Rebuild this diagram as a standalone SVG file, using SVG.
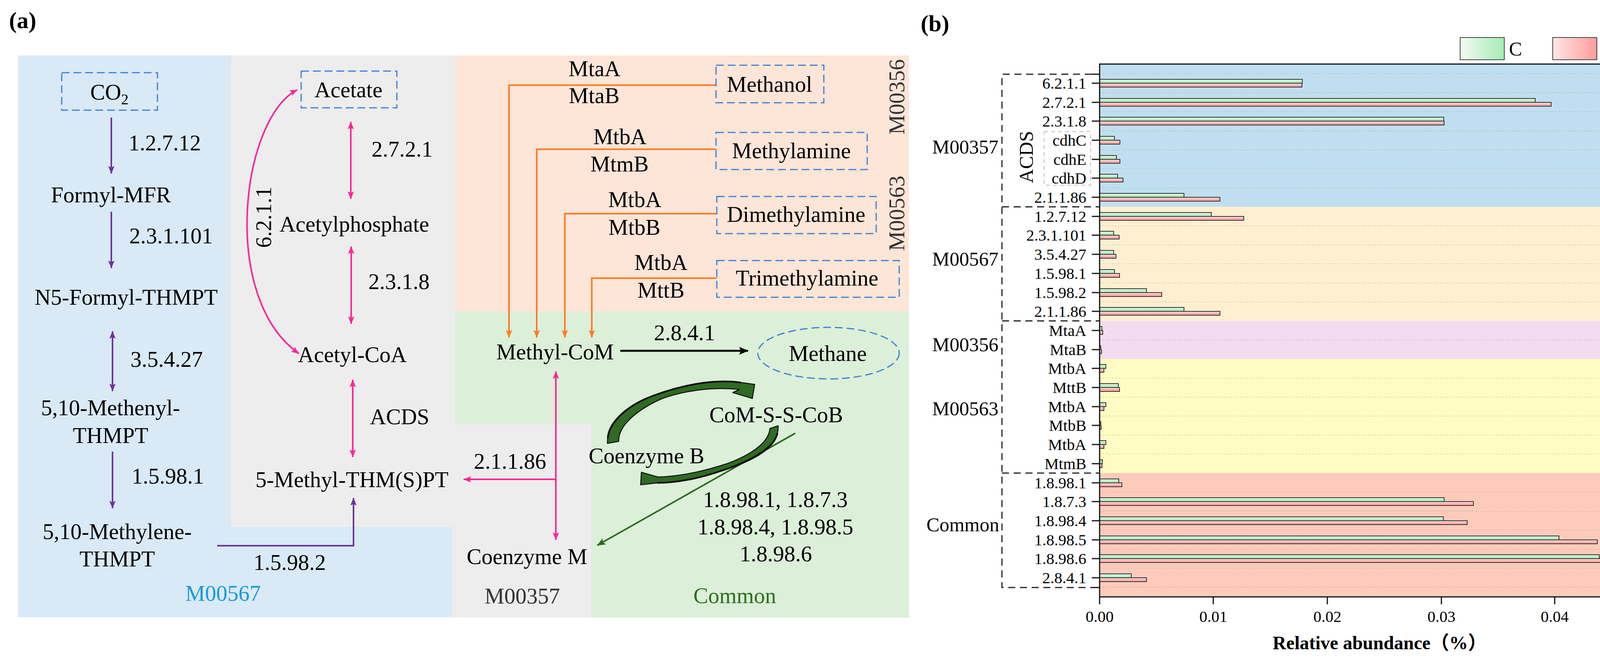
<svg xmlns="http://www.w3.org/2000/svg" width="4327" height="1687" viewBox="0 0 4327 1687">
<defs>
<style>
text{font-family:"Liberation Serif","Times New Roman","Noto Sans CJK SC",serif;fill:#000}
.t{font-size:57px}
.m{text-anchor:middle}
.e{text-anchor:end}
.bx{fill:none;stroke:#3f80d4;stroke-width:3;stroke-dasharray:20 10}
.pu{fill:none;stroke:#7030a0;stroke-width:4}
.pk{fill:none;stroke:#ff2394;stroke-width:4}
.or{fill:none;stroke:#ff7a21;stroke-width:4}
.bk{fill:none;stroke:#000;stroke-width:5}
.gl{fill:none;stroke:#2b6a1d;stroke-width:4}
.blk{fill:#2f6b22;stroke:#111;stroke-width:2.5;stroke-linejoin:round}
.blo{fill:none;stroke:#111;stroke-width:4.5;stroke-linecap:round}
.ct{font-size:41px}
.cg{font-size:50px}
.dbox{fill:none;stroke:#222;stroke-width:3;stroke-dasharray:18 12}
.lbox{fill:none;stroke:#bdbdbd;stroke-width:2;stroke-dasharray:10 8}
.grid{stroke:#8a8a8a;stroke-opacity:.35;stroke-width:2;stroke-dasharray:3 5}
.gb{fill:url(#gGv);stroke:#333;stroke-width:2}
.rb{fill:url(#gRv);stroke:#333;stroke-width:2}
.ax{fill:none;stroke:#111;stroke-width:3}
</style>
<linearGradient id="gGv" x1="0" y1="0" x2="0" y2="1"><stop offset="0" stop-color="#e4f9e5"/><stop offset="1" stop-color="#9fe6af"/></linearGradient>
<linearGradient id="gRv" x1="0" y1="0" x2="0" y2="1"><stop offset="0" stop-color="#ffdede"/><stop offset="1" stop-color="#ff9494"/></linearGradient>
<linearGradient id="gGh" x1="0" y1="0" x2="1" y2="0"><stop offset="0" stop-color="#f2fcf1"/><stop offset="1" stop-color="#a3ebb5"/></linearGradient>
<linearGradient id="gRh" x1="0" y1="0" x2="1" y2="0"><stop offset="0" stop-color="#ffe6e6"/><stop offset="1" stop-color="#ff9c9c"/></linearGradient>
<marker id="ap" viewBox="0 0 20 16" refX="19" refY="8" markerWidth="20" markerHeight="16" markerUnits="userSpaceOnUse" orient="auto-start-reverse"><path d="M0,0 L20,8 L0,16 L4,8 z" fill="#7030a0"/></marker>
<marker id="apk" viewBox="0 0 20 16" refX="19" refY="8" markerWidth="20" markerHeight="16" markerUnits="userSpaceOnUse" orient="auto-start-reverse"><path d="M0,0 L20,8 L0,16 L4,8 z" fill="#ff2394"/></marker>
<marker id="aor" viewBox="0 0 20 16" refX="19" refY="8" markerWidth="20" markerHeight="16" markerUnits="userSpaceOnUse" orient="auto"><path d="M0,0 L20,8 L0,16 L4,8 z" fill="#ff7a21"/></marker>
<marker id="abk" viewBox="0 0 24 20" refX="23" refY="10" markerWidth="24" markerHeight="20" markerUnits="userSpaceOnUse" orient="auto"><path d="M0,0 L24,10 L0,20 L5,10 z" fill="#000"/></marker>
<marker id="agr" viewBox="0 0 22 18" refX="21" refY="9" markerWidth="22" markerHeight="18" markerUnits="userSpaceOnUse" orient="auto"><path d="M0,0 L22,9 L0,18 L5,9 z" fill="#2b6a1d"/></marker>
</defs>
<rect width="4327" height="1687" fill="#fff"/>

<!-- ===== Panel (a) ===== -->
<g id="panel-a-bg">
<polygon points="46,142 591,142 591,1349 1157,1349 1157,1580 46,1580" fill="#d9e9f6"/>
<polygon points="591,142 1165,142 1165,1086 1513,1086 1513,1581 1157,1581 1157,1349 591,1349" fill="#ededed"/>
<rect x="1165" y="142" width="1162" height="655" fill="#fde5d7"/>
<polygon points="1165,797 2327,797 2327,1581 1513,1581 1513,1086 1165,1086" fill="#dcefd9"/>
</g>
<text x="23" y="72" font-size="60" font-weight="bold">(a)</text>

<g id="region-labels">
<text class="t m" x="571" y="1538" style="fill:#1a9ad8">M00567</text>
<text class="t m" x="1337" y="1545" style="fill:#333">M00357</text>
<text class="t m" x="1881" y="1544" style="fill:#2f6f1f">Common</text>
<text class="t m" transform="translate(2315,248) rotate(-90)" style="fill:#333">M00356</text>
<text class="t m" transform="translate(2315,546) rotate(-90)" style="fill:#333">M00563</text>
</g>

<g id="connectors">
<line class="pu" x1="285" y1="301" x2="285" y2="444" marker-end="url(#ap)"/>
<line class="pu" x1="285" y1="542" x2="285" y2="686" marker-end="url(#ap)"/>
<line class="pu" x1="288" y1="848" x2="288" y2="1001" marker-start="url(#ap)" marker-end="url(#ap)"/>
<line class="pu" x1="288" y1="1156" x2="288" y2="1301" marker-end="url(#ap)"/>
<polyline class="pu" points="556,1397 905,1397 905,1275" marker-end="url(#ap)"/>
<line class="pk" x1="898" y1="312" x2="898" y2="509" marker-start="url(#apk)" marker-end="url(#apk)"/>
<line class="pk" x1="899" y1="631" x2="899" y2="829" marker-start="url(#apk)" marker-end="url(#apk)"/>
<line class="pk" x1="903" y1="972" x2="903" y2="1170" marker-start="url(#apk)" marker-end="url(#apk)"/>
<path class="pk" d="M761,230 C620,300 560,760 765,905" marker-start="url(#apk)" marker-end="url(#apk)"/>
<line class="pk" x1="1423" y1="951" x2="1423" y2="1382" marker-start="url(#apk)" marker-end="url(#apk)"/>
<line class="pk" x1="1423" y1="1227" x2="1187" y2="1227" marker-end="url(#apk)"/>
<polyline class="or" points="1833,218 1303,218 1303,864" marker-end="url(#aor)"/>
<polyline class="or" points="1833,382 1374,382 1374,864" marker-end="url(#aor)"/>
<polyline class="or" points="1835,547 1446,547 1446,864" marker-end="url(#aor)"/>
<polyline class="or" points="1835,712 1515,712 1515,864" marker-end="url(#aor)"/>
<line class="bk" x1="1588" y1="898" x2="1915" y2="898" marker-end="url(#abk)"/>
<line class="gl" x1="2036" y1="1109" x2="1529" y2="1396" marker-end="url(#agr)"/>
<path class="blk" d="M1555,1135 C1553,1090 1600,1040 1672,1013 C1740,988 1820,970 1895,979 L1932,984 L1926,1020 L1876,1005 L1893,997 C1820,990 1745,1001 1691,1022 C1630,1050 1582,1090 1584,1130 Z"/>
<path class="blo" d="M1556,1120 C1560,1080 1605,1038 1672,1013 C1740,988 1820,970 1895,979"/>
<path class="blk" d="M1992,1090 C1996,1140 1930,1176 1844,1206 C1790,1225 1730,1236 1684,1236 L1640,1241 L1642,1209 L1684,1221 C1740,1220 1800,1207 1864,1186 C1930,1161 1968,1130 1971,1097 Z"/>
<path class="blo" d="M1990,1110 C1980,1150 1925,1180 1844,1206 C1790,1225 1730,1236 1684,1236"/>
</g>

<g id="n-co2"><rect class="bx" x="158" y="186" width="245" height="96"/><text class="t m" x="280" y="255">CO<tspan font-size="38" dy="12">2</tspan></text></g>
<g id="n-formyl-mfr"><text class="t m" x="284" y="518">Formyl-MFR</text></g>
<g id="n-n5-formyl"><text class="t m" x="323" y="780">N5-Formyl-THMPT</text></g>
<g id="n-methenyl"><text class="t m" x="283" y="1063">5,10-Methenyl-</text><text class="t m" x="283" y="1134">THMPT</text></g>
<g id="n-methylene"><text class="t m" x="300" y="1380">5,10-Methylene-</text><text class="t m" x="300" y="1450">THMPT</text></g>
<g id="n-acetate"><rect class="bx" x="771" y="182" width="245" height="94"/><text class="t m" x="892" y="249">Acetate</text></g>
<g id="n-acetylphosphate"><text class="t m" x="907" y="593">Acetylphosphate</text></g>
<g id="n-acetyl-coa"><text class="t m" x="902" y="927">Acetyl-CoA</text></g>
<g id="n-methyl-thmspt"><text class="t m" x="901" y="1247">5-Methyl-THM(S)PT</text></g>
<g id="n-methanol"><rect class="bx" x="1833" y="167" width="276" height="96"/><text class="t m" x="1970" y="235">Methanol</text></g>
<g id="n-methylamine"><rect class="bx" x="1833" y="339" width="387" height="95"/><text class="t m" x="2026" y="405">Methylamine</text></g>
<g id="n-dimethylamine"><rect class="bx" x="1835" y="503" width="408" height="95"/><text class="t m" x="2038" y="568">Dimethylamine</text></g>
<g id="n-trimethylamine"><rect class="bx" x="1835" y="667" width="467" height="94"/><text class="t m" x="2066" y="731">Trimethylamine</text></g>
<g id="n-methyl-com"><text class="t m" x="1421" y="920">Methyl-CoM</text></g>
<g id="n-methane"><ellipse class="bx" cx="2121" cy="904" rx="181" ry="66"/><text class="t m" x="2119" y="924">Methane</text></g>
<g id="n-com-s-s-cob"><text class="t m" x="1987" y="1081">CoM-S-S-CoB</text></g>
<g id="n-coenzyme-b"><text class="t m" x="1655" y="1186">Coenzyme B</text></g>
<g id="n-coenzyme-m"><text class="t m" x="1349" y="1444">Coenzyme M</text></g>

<g id="edge-labels">
<text class="t" x="329" y="385">1.2.7.12</text>
<text class="t" x="331" y="623">2.3.1.101</text>
<text class="t" x="334" y="939">3.5.4.27</text>
<text class="t" x="337" y="1238">1.5.98.1</text>
<text class="t" x="649" y="1459">1.5.98.2</text>
<text class="t" x="951" y="401">2.7.2.1</text>
<text class="t" x="943" y="740">2.3.1.8</text>
<text class="t" x="947" y="1086">ACDS</text>
<text class="t m" transform="translate(694,556) rotate(-90)">6.2.1.1</text>
<text class="t" x="1213" y="1200">2.1.1.86</text>
<text class="t" x="1674" y="871">2.8.4.1</text>
<text class="t m" x="1522" y="195">MtaA</text>
<text class="t m" x="1521" y="264">MtaB</text>
<text class="t m" x="1587" y="369">MtbA</text>
<text class="t m" x="1586" y="439">MtmB</text>
<text class="t m" x="1625" y="530">MtbA</text>
<text class="t m" x="1624" y="601">MtbB</text>
<text class="t m" x="1692" y="691">MtbA</text>
<text class="t m" x="1692" y="762">MttB</text>
<text class="t m" x="1985" y="1298">1.8.98.1, 1.8.7.3</text>
<text class="t m" x="1985" y="1368">1.8.98.4, 1.8.98.5</text>
<text class="t m" x="1986" y="1437">1.8.98.6</text>
</g>

<!-- ===== Panel (b) ===== -->
<g id="panel-b">
<text x="2357" y="80" font-size="60" font-weight="bold">(b)</text>
<g id="bands">
<rect x="2815" y="164" width="1458" height="365.5" fill="#bfdff0"/>
<rect x="2815" y="529.5" width="1458" height="292" fill="#feefd0"/>
<rect x="2815" y="821.5" width="1458" height="97.5" fill="#f3dcef"/>
<rect x="2815" y="919" width="1458" height="292" fill="#fefcc2"/>
<rect x="2815" y="1211" width="1458" height="317" fill="#fecbbb"/>
</g>
<g id="gridlines">
<path class="grid" d="M2815,188.5H4273M2815,237H4273M2815,286H4273M2815,335H4273M2815,384H4273M2815,432H4273M2815,481H4273M2815,578H4273M2815,627H4273M2815,675H4273M2815,724H4273M2815,773H4273M2815,870H4273M2815,968H4273M2815,1017H4273M2815,1065H4273M2815,1114H4273M2815,1162H4273M2815,1260H4273M2815,1309H4273M2815,1357H4273M2815,1406H4273M2815,1455H4273M2815,1503H4273"/>
</g>
<g id="bars">
<rect class="gb" x="2815" y="203" width="519" height="10"/><rect class="rb" x="2815" y="213" width="518" height="10"/>
<rect class="gb" x="2815" y="252" width="1115" height="10"/><rect class="rb" x="2815" y="262" width="1156" height="10"/>
<rect class="gb" x="2815" y="300" width="881" height="10"/><rect class="rb" x="2815" y="310" width="882" height="10"/>
<rect class="gb" x="2815" y="349" width="38" height="10"/><rect class="rb" x="2815" y="359" width="52" height="10"/>
<rect class="gb" x="2815" y="398" width="43" height="10"/><rect class="rb" x="2815" y="408" width="52" height="10"/>
<rect class="gb" x="2815" y="446" width="46" height="10"/><rect class="rb" x="2815" y="456" width="60" height="10"/>
<rect class="gb" x="2815" y="495" width="216" height="10"/><rect class="rb" x="2815" y="505" width="308" height="10"/>
<rect class="gb" x="2815" y="544" width="286" height="10"/><rect class="rb" x="2815" y="554" width="369" height="10"/>
<rect class="gb" x="2815" y="592" width="36" height="10"/><rect class="rb" x="2815" y="602" width="50" height="10"/>
<rect class="gb" x="2815" y="641" width="36" height="10"/><rect class="rb" x="2815" y="651" width="42" height="10"/>
<rect class="gb" x="2815" y="690" width="38" height="10"/><rect class="rb" x="2815" y="700" width="51" height="10"/>
<rect class="gb" x="2815" y="739" width="120" height="10"/><rect class="rb" x="2815" y="749" width="159" height="10"/>
<rect class="gb" x="2815" y="787" width="216" height="10"/><rect class="rb" x="2815" y="797" width="308" height="10"/>
<rect class="gb" x="2815" y="836" width="6" height="10"/><rect class="rb" x="2815" y="846" width="8" height="10"/>
<rect class="gb" x="2815" y="885" width="3" height="10"/><rect class="rb" x="2815" y="895" width="5" height="10"/>
<rect class="gb" x="2815" y="933" width="16" height="10"/><rect class="rb" x="2815" y="943" width="11" height="10"/>
<rect class="gb" x="2815" y="982" width="48" height="10"/><rect class="rb" x="2815" y="992" width="51" height="10"/>
<rect class="gb" x="2815" y="1031" width="16" height="10"/><rect class="rb" x="2815" y="1041" width="11" height="10"/>
<rect class="gb" x="2815" y="1079" width="3" height="10"/><rect class="rb" x="2815" y="1089" width="4" height="10"/>
<rect class="gb" x="2815" y="1128" width="16" height="10"/><rect class="rb" x="2815" y="1138" width="11" height="10"/>
<rect class="gb" x="2815" y="1177" width="7" height="10"/><rect class="rb" x="2815" y="1187" width="6" height="10"/>
<rect class="gb" x="2815" y="1226" width="49" height="10"/><rect class="rb" x="2815" y="1236" width="57" height="10"/>
<rect class="gb" x="2815" y="1274" width="882" height="10"/><rect class="rb" x="2815" y="1284" width="957" height="10"/>
<rect class="gb" x="2815" y="1323" width="880" height="10"/><rect class="rb" x="2815" y="1333" width="941" height="10"/>
<rect class="gb" x="2815" y="1372" width="1176" height="10"/><rect class="rb" x="2815" y="1382" width="1274" height="10"/>
<rect class="gb" x="2815" y="1420" width="1279" height="10"/><rect class="rb" x="2815" y="1430" width="1338" height="10"/>
<rect class="gb" x="2815" y="1469" width="81" height="10"/><rect class="rb" x="2815" y="1479" width="120" height="10"/>
</g>
<g id="axes">
<rect class="ax" x="2815" y="164" width="1458" height="1364"/>
<path class="ax" d="M2795,213H2815M2795,262H2815M2795,310H2815M2795,359H2815M2795,408H2815M2795,456H2815M2795,505H2815M2795,554H2815M2795,602H2815M2795,651H2815M2795,700H2815M2795,749H2815M2795,797H2815M2795,846H2815M2795,895H2815M2795,943H2815M2795,992H2815M2795,1041H2815M2795,1089H2815M2795,1138H2815M2795,1187H2815M2795,1236H2815M2795,1284H2815M2795,1333H2815M2795,1382H2815M2795,1430H2815M2795,1479H2815M2795,190H2815M2795,1504H2815"/>
<path class="ax" d="M2815,1528V1547M3106,1528V1547M3398,1528V1547M3690,1528V1547M3980,1528V1547M4273,1528V1547"/>
<text class="ct m" x="2815" y="1592">0.00</text>
<text class="ct m" x="3106" y="1592">0.01</text>
<text class="ct m" x="3398" y="1592">0.02</text>
<text class="ct m" x="3690" y="1592">0.03</text>
<text class="ct m" x="3980" y="1592">0.04</text>
<text class="ct m" x="4273" y="1592">0.05</text>
<text class="m" x="3532" y="1662" font-size="48" font-weight="bold">Relative abundance（%）</text>
</g>
<g id="category-labels">
<text class="ct e" x="2781" y="227">6.2.1.1</text>
<text class="ct e" x="2781" y="276">2.7.2.1</text>
<text class="ct e" x="2781" y="324">2.3.1.8</text>
<text class="ct e" x="2781" y="373">cdhC</text>
<text class="ct e" x="2781" y="422">cdhE</text>
<text class="ct e" x="2781" y="470">cdhD</text>
<text class="ct e" x="2781" y="519">2.1.1.86</text>
<text class="ct e" x="2781" y="568">1.2.7.12</text>
<text class="ct e" x="2781" y="616">2.3.1.101</text>
<text class="ct e" x="2781" y="665">3.5.4.27</text>
<text class="ct e" x="2781" y="714">1.5.98.1</text>
<text class="ct e" x="2781" y="763">1.5.98.2</text>
<text class="ct e" x="2781" y="811">2.1.1.86</text>
<text class="ct e" x="2781" y="860">MtaA</text>
<text class="ct e" x="2781" y="909">MtaB</text>
<text class="ct e" x="2781" y="957">MtbA</text>
<text class="ct e" x="2781" y="1006">MttB</text>
<text class="ct e" x="2781" y="1055">MtbA</text>
<text class="ct e" x="2781" y="1103">MtbB</text>
<text class="ct e" x="2781" y="1152">MtbA</text>
<text class="ct e" x="2781" y="1201">MtmB</text>
<text class="ct e" x="2781" y="1250">1.8.98.1</text>
<text class="ct e" x="2781" y="1298">1.8.7.3</text>
<text class="ct e" x="2781" y="1347">1.8.98.4</text>
<text class="ct e" x="2781" y="1396">1.8.98.5</text>
<text class="ct e" x="2781" y="1444">1.8.98.6</text>
<text class="ct e" x="2781" y="1493">2.8.4.1</text>
</g>
<g id="group-brackets">
<path class="dbox" d="M2795,190H2565V1504H2795M2565,529.5H2815M2565,821.5H2815M2565,1211H2815"/>
<rect class="lbox" x="2673" y="337" width="119" height="137"/>
<text class="cg m" transform="translate(2644,402) rotate(-90)">ACDS</text>
<text class="cg e" x="2556" y="393">M00357</text>
<text class="cg e" x="2556" y="680">M00567</text>
<text class="cg e" x="2556" y="899">M00356</text>
<text class="cg e" x="2556" y="1063">M00563</text>
<text class="cg e" x="2558" y="1360">Common</text>
</g>
<g id="legend">
<rect x="3738" y="96" width="113" height="57" fill="url(#gGh)" stroke="#444" stroke-width="2"/>
<text class="cg" x="3863" y="142">C</text>
<rect x="3975" y="96" width="113" height="57" fill="url(#gRh)" stroke="#444" stroke-width="2"/>
<text class="cg" x="4102" y="142">5–10</text>
</g>
</g>
</svg>
